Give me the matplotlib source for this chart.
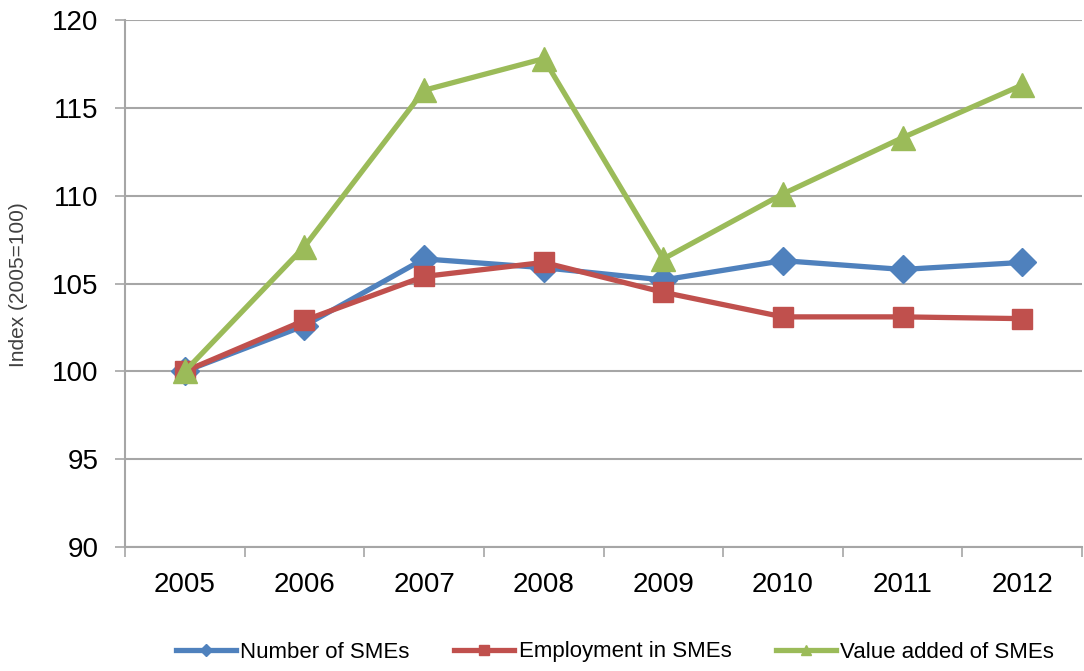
import matplotlib
matplotlib.use("Agg")
import matplotlib.pyplot as plt
from matplotlib.ticker import FixedLocator

years = ["2005", "2006", "2007", "2008", "2009", "2010", "2011", "2012"]
number_smes = [100.0, 102.6, 106.4, 105.9, 105.2, 106.3, 105.8, 106.2]
employment_smes = [100.0, 102.9, 105.4, 106.2, 104.5, 103.1, 103.1, 103.0]
value_added_smes = [100.0, 107.1, 116.0, 117.8, 106.4, 110.1, 113.3, 116.3]
yticks = [90, 95, 100, 105, 110, 115, 120]

font = ["Liberation Sans", "DejaVu Sans"]

fig = plt.figure(figsize=(10.84, 6.71), dpi=100)
ax = fig.add_axes([125/1084, 124/671, 957/1084, 527/671])

x = list(range(len(years)))
grid_c = "#A6A6A6"

l1, = ax.plot(x, number_smes, color="#4F81BD", lw=3.8, marker="D", ms=14,
              label="Number of SMEs", zorder=3)
l2, = ax.plot(x, employment_smes, color="#C0504D", lw=3.8, marker="s", ms=15,
              label="Employment in SMEs", zorder=4)
l3, = ax.plot(x, value_added_smes, color="#9BBB59", lw=3.8, marker="^", ms=17,
              label="Value added of SMEs", zorder=5)

ax.set_xlim(-0.5, len(years) - 0.5)
ax.set_ylim(90, 120)
ax.set_yticks(yticks)
ax.set_yticklabels([str(v) for v in yticks], fontsize=20, family=font)
ax.set_xticks(x)
ax.set_xticklabels(years, fontsize=20, family=font)
ax.xaxis.set_minor_locator(FixedLocator([i - 0.5 for i in range(len(years) + 1)]))
ax.tick_params(axis="x", which="major", length=0, pad=18)
ax.tick_params(axis="x", which="minor", length=7, width=1.2, color=grid_c, direction="out")
ax.tick_params(axis="y", which="major", length=7, width=1.2, color=grid_c, pad=12)

ax.grid(axis="y", color=grid_c, lw=1.5, zorder=0)
ax.set_axisbelow(True)
for s in ["top", "right"]:
    ax.spines[s].set_visible(False)
for s in ["left", "bottom"]:
    ax.spines[s].set_color(grid_c)
    ax.spines[s].set_linewidth(1.5)

fig.text(19/1084, 1 - 285/671, "Index (2005=100)", rotation=90, ha="center", va="center",
         fontsize=15, color="#404040", family=font)

leg = fig.legend(handles=[l1, l2, l3], loc="center", bbox_to_anchor=(615/1084, 1 - 652/671),
                 ncol=3, frameon=False, handlelength=2.7, handletextpad=0.2, columnspacing=2.0,
                 markerscale=0.45, prop={"family": font, "size": 16})

fig.savefig("out.png", dpi=100)
